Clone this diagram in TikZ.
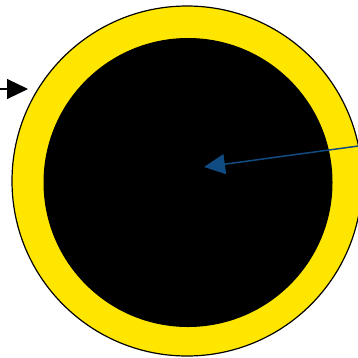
\documentclass[tikz,border=0pt]{standalone}
\usetikzlibrary{arrows.meta}
\definecolor{ringyellow}{RGB}{255,230,0}
\definecolor{arrowblue}{RGB}{16,76,130}
\begin{document}
\begin{tikzpicture}[x=1pt,y=-1pt,
  ring/.style={circle,draw=black,line width=1.2pt,fill=ringyellow,minimum size=350pt,inner sep=0pt},
  core/.style={circle,fill=black,minimum size=289pt,inner sep=0pt},
  blackarrow/.style={draw=black,line width=1.2pt,-{Triangle[length=21pt,width=20pt]}},
  bluearrow/.style={draw=arrowblue,line width=1.5pt,-{Triangle[length=21pt,width=20pt]}}]
\useasboundingbox (0,0) rectangle (358,357);
\node[ring] (outer) at (187,181) {};
\node[core] (inner) at (188,182.5) {};
\coordinate (lstart) at (0,89);
\coordinate (ltip) at (28,89);
\coordinate (bstart) at (362,145.5);
\coordinate (btip) at (204,167);
\draw[blackarrow] (lstart) -- (ltip);
\draw[bluearrow] (bstart) -- (btip);
\end{tikzpicture}
\end{document}
